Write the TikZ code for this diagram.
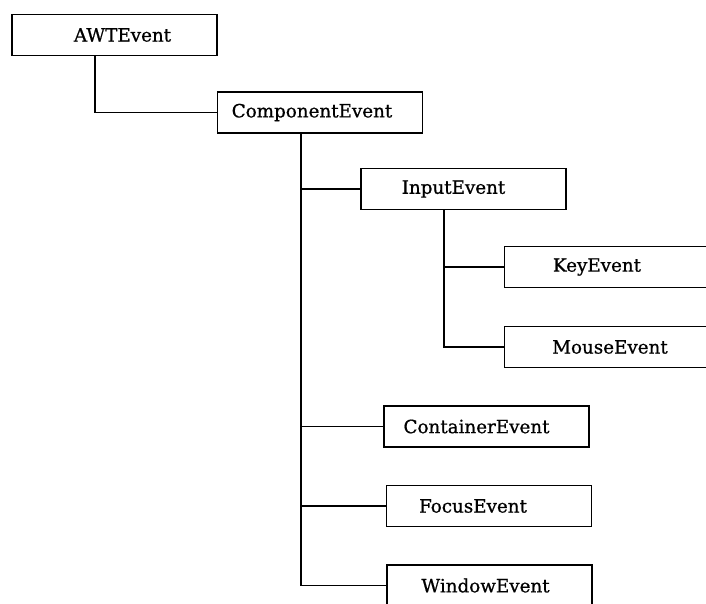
\documentclass[tikz,border=0pt]{standalone}
\usepackage{fontspec}
\setmainfont{DejaVu Serif}
\newfontfamily\evfont{DejaVu Serif}[FakeBold=0.8]
\begin{document}
\begin{tikzpicture}[x=1pt,y=-1pt,
  evbox/.style={draw, line width=1.8pt, minimum width=205pt, minimum height=41pt,
    inner sep=0pt, font=\evfont\fontsize{18.3}{20}\selectfont, fill=white},
  link/.style={line width=1.8pt}]
\useasboundingbox (0,0) rectangle (706,603);
\clip (0,0) rectangle (706,603);
\node[evbox] (awt) at (114.5,35) {\hspace*{16pt}AWTEvent};
\node[evbox] (comp) at (320,112.5) {\hspace*{-16pt}ComponentEvent};
\node[evbox] (input) at (463.5,189) {\hspace*{-20pt}InputEvent};
\node[evbox] (key) at (607,267) {\hspace*{-20pt}KeyEvent};
\node[evbox] (mouse) at (607,347) {\hspace*{6pt}MouseEvent};
\node[evbox] (cont) at (486.5,426.5) {\hspace*{-20pt}ContainerEvent};
\node[evbox] (focus) at (489,506) {\hspace*{-32pt}FocusEvent};
\node[evbox] (win) at (489.5,585.5) {\hspace*{-8pt}WindowEvent};
\coordinate (t0) at ([xshift=-19.5pt]awt.south);
\coordinate (t1) at ([xshift=-19pt]comp.south);
\coordinate (t2) at ([xshift=-19.5pt]input.south);
\draw[link] (t0) |- (comp.west);
\draw[link] (t1) |- (win.west);
\draw[link] (input.west) -- (input.west -| t1);
\draw[link] (cont.west) -- (cont.west -| t1);
\draw[link] (focus.west) -- (focus.west -| t1);
\draw[link] (t2) |- (mouse.west);
\draw[link] (key.west) -- (key.west -| t2);
\end{tikzpicture}
\end{document}
